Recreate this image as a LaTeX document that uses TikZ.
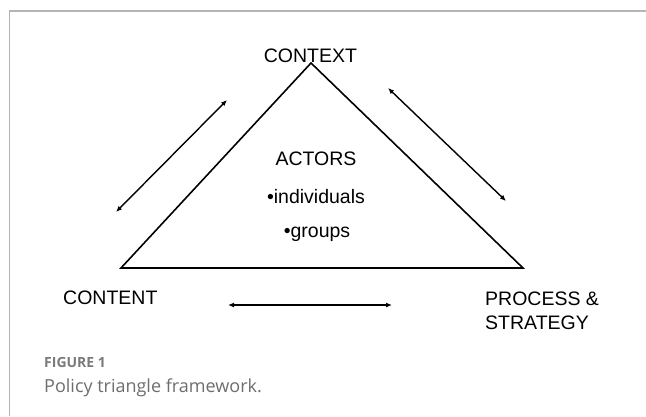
\documentclass[tikz,border=0pt]{standalone}
\usepackage{fontspec}
\setmainfont{Liberation Sans}
\newfontfamily\capfont{Open Sans}
\usetikzlibrary{arrows.meta}
\definecolor{framegray}{HTML}{B4B4B4}
\definecolor{capgray}{HTML}{7A7A7A}
\definecolor{capgraylight}{HTML}{6E6E6E}
\begin{document}
\begin{tikzpicture}[x=1pt,y=-1pt,
  lbl/.style={font=\fontsize{19.5}{24}\selectfont, inner sep=0pt, anchor=base},
  edge/.style={line width=1.6pt, line join=miter},
  link/.style={line width=1.4pt, {Latex[length=6pt,width=5pt]}-{Latex[length=6pt,width=5pt]}}
]
\useasboundingbox (0,0) rectangle (646,416);
\fill[white] (0,0) rectangle (646,416);
% panel frame (only top and left edges fall inside the page)
\draw[framegray, line width=1.6pt] (9.5,416) -- (9.5,11) -- (646,11);

% triangle corners
\coordinate (top) at (311,63);
\coordinate (left) at (121,268);
\coordinate (right) at (523,268);
\draw[edge] (left) -- (top) -- (right) -- cycle;

% labels
\node[lbl] (context) at (310.5,62) {CONTEXT};
\node[lbl, anchor=base west] (content) at (63,304) {CONTENT};
\node[lbl, anchor=base west] (process) at (485,305) {PROCESS \&};
\node[lbl, anchor=base west] (strategy) at (485,329) {STRATEGY};
\node[lbl] (actors) at (316,165) {ACTORS};
\node[lbl] (indiv) at (316,203) {\textbullet individuals};
\node[lbl] (groups) at (317,237) {\textbullet groups};

% two-way links
\coordinate (la) at (116,212);
\coordinate (lb) at (227,100);
\coordinate (ra) at (388,88);
\coordinate (rb) at (506,201);
\coordinate (ba) at (228,305);
\coordinate (bb) at (392,305);
\draw[link] (la) -- (lb);
\draw[link] (ra) -- (rb);
\draw[link] (ba) -- (bb);

% caption
\node[inner sep=0pt, anchor=base west, text=capgray, font=\capfont\bfseries\fontsize{14}{16}\selectfont] (figlabel) at (44,367) {FIGURE 1};
\node[inner sep=0pt, anchor=base west, text=capgraylight, font=\capfont\fontsize{18}{20}\selectfont] (figtitle) at (44,392) {Policy triangle framework.};
\end{tikzpicture}
\end{document}
